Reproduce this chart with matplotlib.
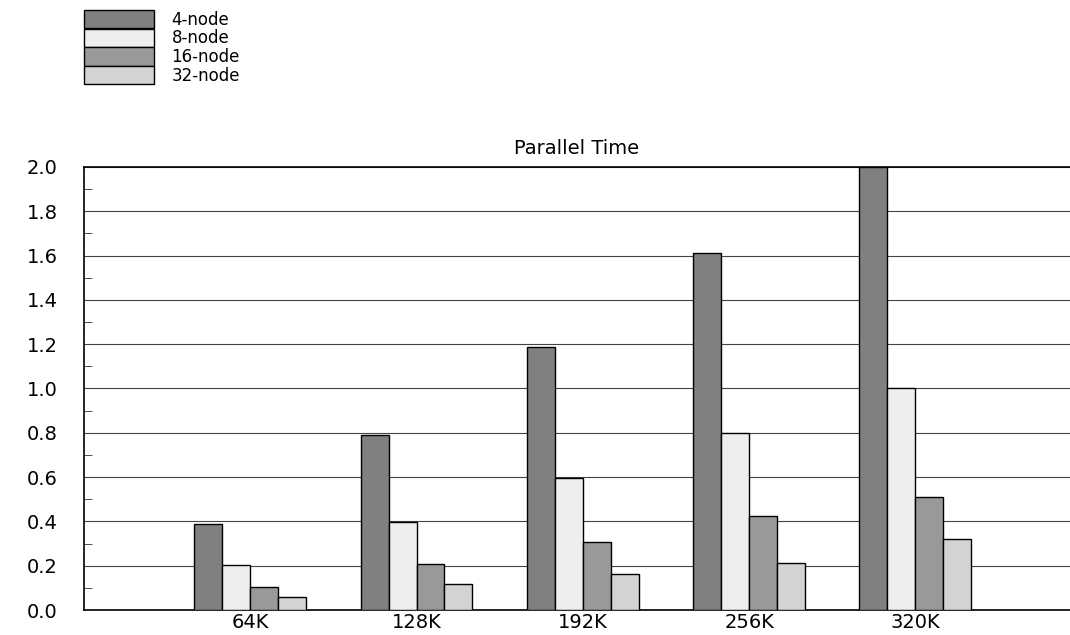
import matplotlib
matplotlib.use("Agg")
import matplotlib.pyplot as plt
import numpy as np
from matplotlib.ticker import MultipleLocator, FormatStrFormatter

sizes = ["64K", "128K", "192K", "256K", "320K"]
series = ["4-node", "8-node", "16-node", "32-node"]
node4 = [0.388, 0.79, 1.187, 1.612, 2.0]
node8 = [0.203, 0.397, 0.596, 0.799, 1.002]
node16 = [0.104, 0.208, 0.307, 0.424, 0.51]
node32 = [0.059, 0.117, 0.163, 0.212, 0.32]
colors = ["#808080", "#eeeeee", "#999999", "#d3d3d3"]

plt.rcParams['font.family'] = ['DejaVu Sans']

fig = plt.figure(figsize=(10.70, 6.35), dpi=100)
ax = fig.add_axes([84 / 1070, 25 / 635, 1 - 84 / 1070, 443 / 635])

x = np.arange(len(sizes))
w = 0.168
bars = []
for i, vals in enumerate([node4, node8, node16, node32]):
    b = ax.bar(x + (i - 1.5) * w, vals, w, color=colors[i], edgecolor="black",
               linewidth=1.0, label=series[i], zorder=3)
    bars.append(b)

ax.set_xlim(-1, 4.93)
ax.set_ylim(0, 2.0)
ax.set_xticks(x)
ax.set_xticklabels(sizes, fontsize=14)
ax.yaxis.set_major_locator(MultipleLocator(0.2))
ax.yaxis.set_minor_locator(MultipleLocator(0.1))
ax.yaxis.set_major_formatter(FormatStrFormatter("%.1f"))
ax.tick_params(axis="y", which="major", labelsize=14)
ax.tick_params(axis="x", length=0, pad=2)
ax.tick_params(axis="y", which="major", length=0, pad=19)
ax.tick_params(axis="y", which="minor", direction="in", length=6, color="#333333")
ax.grid(axis="y", which="major", color="#444444", linewidth=0.8, zorder=0)
ax.set_axisbelow(True)

ax.spines["right"].set_visible(False)
for s in ["top", "left", "bottom"]:
    ax.spines[s].set_linewidth(1.2)

ax.set_title("Parallel Time", fontsize=14, pad=9)

fig.legend(handles=bars, labels=series, loc="upper left",
           bbox_to_anchor=(84 / 1070, 1 - 10 / 635), frameon=False,
           borderpad=0, borderaxespad=0, labelspacing=0, fontsize=12,
           handlelength=4.2, handleheight=1.3, handletextpad=1.05)

fig.savefig("out.png", dpi=100)
